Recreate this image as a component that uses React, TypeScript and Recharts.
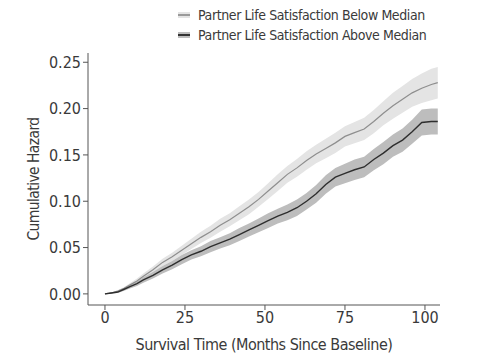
import { Area, ComposedChart, Line, XAxis, YAxis } from 'recharts'

// Mois depuis la ligne de base
const months = [0, 2, 4, 6, 8, 10, 12, 15, 18, 21, 24, 27, 30, 33, 36, 39, 42, 45, 48, 51, 54, 57, 60, 63, 66, 69, 72, 75, 78, 81, 84, 87, 90, 93, 96, 99, 102, 104]

// Satisfaction du partenaire sous la médiane
const below = [0, 0.001, 0.003, 0.006, 0.01, 0.014, 0.019, 0.026, 0.034, 0.04, 0.047, 0.054, 0.061, 0.067, 0.074, 0.08, 0.087, 0.094, 0.102, 0.111, 0.12, 0.129, 0.136, 0.144, 0.151, 0.157, 0.163, 0.17, 0.174, 0.178, 0.186, 0.195, 0.203, 0.21, 0.217, 0.222, 0.226, 0.228]
const belowCi = [0, 0.0005, 0.001, 0.0015, 0.002, 0.0025, 0.003, 0.0035, 0.004, 0.0045, 0.005, 0.0055, 0.006, 0.0065, 0.007, 0.007, 0.0075, 0.008, 0.008, 0.0085, 0.009, 0.009, 0.0095, 0.01, 0.01, 0.0105, 0.011, 0.011, 0.0115, 0.012, 0.0125, 0.013, 0.014, 0.0145, 0.015, 0.016, 0.017, 0.017]

// Satisfaction du partenaire au-dessus de la médiane
const above = [0, 0.001, 0.002, 0.005, 0.008, 0.011, 0.015, 0.02, 0.026, 0.031, 0.037, 0.042, 0.046, 0.051, 0.055, 0.059, 0.064, 0.069, 0.074, 0.079, 0.084, 0.088, 0.093, 0.1, 0.108, 0.118, 0.126, 0.13, 0.134, 0.137, 0.145, 0.152, 0.16, 0.166, 0.175, 0.185, 0.186, 0.186]
const aboveCi = [0, 0.0005, 0.001, 0.0015, 0.002, 0.0025, 0.003, 0.0035, 0.004, 0.0045, 0.005, 0.005, 0.0055, 0.006, 0.006, 0.0065, 0.007, 0.007, 0.0075, 0.008, 0.008, 0.0085, 0.009, 0.009, 0.0095, 0.01, 0.01, 0.0105, 0.011, 0.011, 0.0115, 0.012, 0.012, 0.0125, 0.013, 0.014, 0.014, 0.014]

const xTicks = [0, 25, 50, 75, 100]
const yTicks = [0, 0.05, 0.1, 0.15, 0.2, 0.25]

const font = '"Liberation Sans Narrow", "DejaVu Sans Condensed", Arial, sans-serif'
const ink = '#3a3a3a'

const data = months.map((m, i) => ({
  month: m,
  below: below[i],
  belowBand: [below[i] - belowCi[i], below[i] + belowCi[i]],
  above: above[i],
  aboveBand: [above[i] - aboveCi[i], above[i] + aboveCi[i]],
}))

const legendItems = [
  { label: 'Partner Life Satisfaction Below Median', band: '#e4e4e4', line: '#9a9a9a' },
  { label: 'Partner Life Satisfaction Above Median', band: '#bdbdbd', line: '#333333' },
]

export default function App() {
  return (
    <div style={{ position: 'absolute', left: 0, top: 0, width: 490, height: 360, background: '#fff', fontFamily: font }}>
      <div style={{ position: 'absolute', left: 178, top: 5, zIndex: 2 }}>
        {legendItems.map((it) => (
          <div key={it.label} style={{ display: 'flex', alignItems: 'center', height: 20, fontSize: 14, letterSpacing: -0.4, color: ink }}>
            <span style={{ position: 'relative', display: 'inline-block', width: 12, height: 6, background: it.band, marginRight: 8 }}>
              <span style={{ position: 'absolute', left: 0, right: 0, top: 2, height: 2, background: it.line }} />
            </span>
            {it.label}
          </div>
        ))}
      </div>
      <ComposedChart width={490} height={360} data={data} margin={{ top: 53, right: 50, bottom: 0, left: 0 }}>
        <XAxis
          dataKey="month"
          type="number"
          domain={[-5.3, 104.7]}
          ticks={xTicks}
          allowDataOverflow
          height={55}
          stroke="#555"
          tickSize={5}
          tick={{ fontSize: 16, fill: ink, fontFamily: font }}
          label={{ value: 'Survival Time (Months Since Baseline)', position: 'insideBottom', offset: 10, fontSize: 16, letterSpacing: -0.5, fill: ink, fontFamily: font }}
        />
        <YAxis
          type="number"
          domain={[-0.012, 0.26]}
          ticks={yTicks}
          allowDataOverflow
          width={88}
          stroke="#555"
          tickSize={5}
          tickFormatter={(v: number) => v.toFixed(2)}
          tick={{ fontSize: 16, fill: ink, fontFamily: font }}
          label={{ value: 'Cumulative Hazard', angle: -90, position: 'insideLeft', offset: 33, fontSize: 15.5, letterSpacing: -0.6, fill: ink, fontFamily: font, style: { textAnchor: 'middle' } }}
        />
        <Area dataKey="belowBand" type="linear" stroke="none" fill="#e4e4e4" fillOpacity={1} isAnimationActive={false} />
        <Area dataKey="aboveBand" type="linear" stroke="none" fill="#bdbdbd" fillOpacity={1} isAnimationActive={false} />
        <Line dataKey="below" type="linear" stroke="#8e8e8e" strokeWidth={1.2} dot={false} isAnimationActive={false} />
        <Line dataKey="above" type="linear" stroke="#2e2e2e" strokeWidth={1.4} dot={false} isAnimationActive={false} />
      </ComposedChart>
    </div>
  )
}
